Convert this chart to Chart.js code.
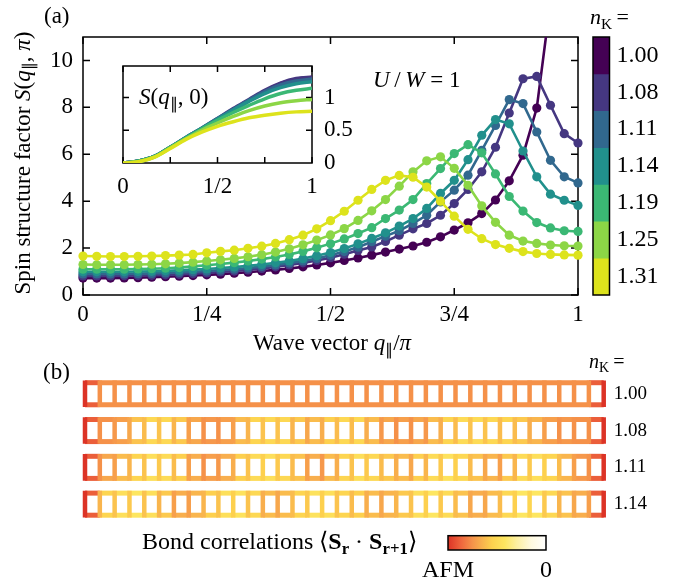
<!DOCTYPE html>
<html><head><meta charset="utf-8">
<script src="https://cdn.jsdelivr.net/npm/chart.js@4/dist/chart.umd.min.js"></script>
<style>
html,body{margin:0;padding:0;background:#fff;}
body{width:683px;height:587px;position:relative;overflow:hidden;font-family:"Liberation Serif","Times New Roman",serif;color:#000;}
canvas{position:absolute;}
.t{position:absolute;white-space:nowrap;font-size:23px;line-height:1;}
sub{font-size:0.7em;vertical-align:-0.3em;line-height:0;}
.b{font-weight:bold;}
</style></head><body>
<canvas id="main" width="683" height="340" style="left:0;top:0"></canvas>
<canvas id="inset" width="280" height="160" style="left:100px;top:50px"></canvas>
<canvas id="cbar" width="123" height="320" style="left:560px;top:0"></canvas>
<canvas id="ladder" width="683" height="170" style="left:0;top:360px"></canvas>
<canvas id="gbar" width="160" height="59" style="left:420px;top:528px"></canvas>

<div class="t" style="left:44px;top:4px">(a)</div>
<div class="t" style="left:590px;top:6px;font-size:22px"><i>n</i><sub>K</sub>&thinsp;=</div>
<div class="t" style="left:373px;top:68px"><i>U</i>&thinsp;/&thinsp;<i>W</i> = 1</div>
<div class="t" style="left:139px;top:85px"><i>S</i>(<i>q</i><sub>∥</sub>, 0)</div>
<div class="t" style="left:22px;top:163px;transform:translate(-50%,-50%) rotate(-90deg);">Spin structure factor <i>S</i>(<i>q</i><sub>∥</sub>, <i>π</i>)</div>
<div class="t" style="left:332px;top:331px;transform:translateX(-50%);">Wave vector <i>q</i><sub>∥</sub>/<i>π</i></div>
<div class="t" style="left:43px;top:360px">(b)</div>
<div class="t" style="left:589px;top:351px;font-size:20px"><i>n</i><sub>K</sub>&thinsp;=</div>
<div class="t" style="left:142px;top:529px;font-size:24px">Bond correlations ⟨<span class="b">S</span><sub class="b">r</sub> · <span class="b">S</span><sub class="b">r+1</sub>⟩</div>

<script>
const FONT = "'Liberation Serif', 'Times New Roman', serif";

// ---------- panel (a) data ----------
const nK = ['1.00','1.08','1.11','1.14','1.19','1.25','1.31'];
const seriesColors = ['#440154','#453781','#31688e','#21908c','#3bb874','#8cd646','#dde31c'];
const qGrid = [0,0.0278,0.0556,0.0833,0.1111,0.1389,0.1667,0.1944,0.2222,0.25,0.2778,0.3056,0.3333,0.3611,0.3889,0.4167,0.4444,0.4722,0.5,0.5278,0.5556,0.5833,0.6111,0.6389,0.6667,0.6944,0.7222,0.75,0.7778,0.8056,0.8333,0.8611,0.8889,0.9167,0.9444,0.9722,1];
const xTickVals = [0,0.25,0.5,0.75,1];
const xTickLabels = ['0','1/4','1/2','3/4','1'];
const yTickVals = [0,2,4,6,8,10];

const S_100 = [0.72,0.72,0.72,0.73,0.74,0.76,0.78,0.80,0.83,0.86,0.89,0.93,0.97,1.02,1.07,1.13,1.20,1.28,1.37,1.47,1.58,1.70,1.83,1.96,2.09,2.25,2.48,2.77,3.08,3.47,4.05,4.87,5.96,7.97,12.5,18.0,26.0];
const S_108 = [0.81,0.81,0.81,0.82,0.83,0.84,0.86,0.88,0.91,0.94,0.98,1.02,1.07,1.13,1.20,1.28,1.37,1.47,1.59,1.74,1.90,2.05,2.28,2.55,2.82,3.05,3.40,3.90,4.50,5.25,6.30,7.76,9.22,9.32,8.09,6.88,6.48];
const S_111 = [0.90,0.90,0.90,0.90,0.91,0.92,0.94,0.96,0.99,1.02,1.06,1.10,1.15,1.21,1.28,1.36,1.45,1.56,1.69,1.85,2.04,2.27,2.51,2.74,3.05,3.40,3.97,4.47,5.11,6.17,7.23,8.33,8.16,6.95,5.74,5.04,4.78];
const S_114 = [0.99,0.99,0.99,0.99,1.00,1.01,1.03,1.05,1.08,1.11,1.15,1.19,1.24,1.30,1.37,1.45,1.55,1.67,1.81,1.98,2.18,2.41,2.65,2.94,3.26,3.69,4.33,4.89,5.77,6.81,7.48,7.30,6.14,5.04,4.30,4.04,3.82];
const S_119 = [1.10,1.10,1.10,1.10,1.11,1.12,1.14,1.17,1.22,1.27,1.32,1.38,1.45,1.53,1.62,1.73,1.86,2.01,2.19,2.39,2.62,2.87,3.26,3.62,4.07,4.75,5.39,6.03,6.41,6.06,5.16,4.20,3.58,3.09,2.86,2.74,2.71];
const S_125 = [1.30,1.29,1.29,1.29,1.30,1.31,1.33,1.36,1.40,1.45,1.50,1.56,1.63,1.72,1.83,1.97,2.14,2.34,2.56,2.83,3.18,3.59,4.07,4.64,5.25,5.72,5.89,5.40,4.68,3.80,3.10,2.55,2.30,2.20,2.13,2.10,2.09];
const S_131 = [1.66,1.65,1.64,1.64,1.65,1.66,1.68,1.70,1.73,1.80,1.86,1.91,1.99,2.08,2.20,2.36,2.55,2.82,3.17,3.57,4.04,4.50,4.89,5.10,5.02,4.60,4.00,3.36,2.80,2.40,2.15,1.99,1.85,1.77,1.73,1.71,1.70];
const mainSeries = [S_100,S_108,S_111,S_114,S_119,S_125,S_131];

// inset S(q,0)
const qInset = [0,0.0833,0.1667,0.25,0.3333,0.4167,0.5,0.5833,0.6667,0.75,0.8333,0.9167,1];
const insetXTicks = [0,0.25,0.5,0.75,1];
const insetXLabels = {0:'0',0.5:'1/2',1:'1'};
const insetYTicks = [0,0.5,1];
const insetYLabels = ['0','0.5','1'];
const I_100 = [0,0.03,0.10,0.24,0.38,0.52,0.66,0.80,0.95,1.09,1.21,1.28,1.31];
const I_108 = [0,0.03,0.10,0.24,0.39,0.53,0.68,0.83,0.97,1.11,1.22,1.29,1.31];
const I_111 = [0,0.03,0.10,0.24,0.39,0.53,0.68,0.82,0.96,1.09,1.19,1.25,1.28];
const I_114 = [0,0.03,0.10,0.24,0.39,0.53,0.67,0.81,0.94,1.06,1.15,1.21,1.24];
const I_119 = [0,0.03,0.10,0.24,0.38,0.52,0.65,0.77,0.88,0.98,1.06,1.11,1.14];
const I_125 = [0,0.02,0.09,0.23,0.37,0.50,0.61,0.71,0.80,0.87,0.92,0.95,0.97];
const I_131 = [0,0.02,0.09,0.22,0.36,0.47,0.56,0.63,0.69,0.73,0.76,0.78,0.79];
const insetSeries = [I_100,I_108,I_111,I_114,I_119,I_125,I_131];

// ---------- panel (b) data: bond correlations <S_r . S_r+1> ----------
const AFM_VALUE = -0.45;
const ladderLabels = ['1.00','1.08','1.11','1.14'];
const rungs_100 = [-0.45,-0.34,-0.34,-0.34,-0.34,-0.34,-0.34,-0.34,-0.34,-0.34,-0.34,-0.34,-0.34,-0.34,-0.34,-0.34,-0.34,-0.34,-0.34,-0.34,-0.34,-0.34,-0.34,-0.34,-0.34,-0.34,-0.34,-0.34,-0.34,-0.34,-0.34,-0.34,-0.34,-0.34,-0.34,-0.45];
const legs_100 = [-0.40,-0.34,-0.34,-0.34,-0.34,-0.34,-0.34,-0.34,-0.34,-0.34,-0.34,-0.34,-0.34,-0.34,-0.34,-0.34,-0.34,-0.34,-0.34,-0.34,-0.34,-0.34,-0.34,-0.34,-0.34,-0.34,-0.34,-0.34,-0.34,-0.34,-0.34,-0.34,-0.34,-0.34,-0.40];
const rungs_108 = [-0.45,-0.34,-0.33,-0.31,-0.28,-0.27,-0.29,-0.32,-0.34,-0.34,-0.32,-0.29,-0.27,-0.27,-0.29,-0.31,-0.30,-0.28,-0.28,-0.30,-0.33,-0.34,-0.34,-0.33,-0.30,-0.28,-0.27,-0.27,-0.28,-0.28,-0.30,-0.32,-0.34,-0.34,-0.34,-0.45];
const legs_108 = [-0.40,-0.34,-0.32,-0.27,-0.23,-0.23,-0.26,-0.31,-0.33,-0.32,-0.28,-0.24,-0.23,-0.23,-0.26,-0.28,-0.25,-0.23,-0.23,-0.28,-0.31,-0.32,-0.31,-0.28,-0.24,-0.22,-0.22,-0.23,-0.24,-0.26,-0.29,-0.32,-0.33,-0.34,-0.40];
const rungs_111 = [-0.45,-0.34,-0.32,-0.29,-0.27,-0.26,-0.28,-0.32,-0.34,-0.33,-0.30,-0.27,-0.25,-0.26,-0.28,-0.32,-0.33,-0.30,-0.27,-0.26,-0.28,-0.30,-0.31,-0.29,-0.26,-0.25,-0.28,-0.31,-0.32,-0.29,-0.26,-0.25,-0.28,-0.32,-0.34,-0.45];
const legs_111 = [-0.40,-0.31,-0.28,-0.24,-0.21,-0.22,-0.25,-0.30,-0.32,-0.30,-0.25,-0.22,-0.21,-0.23,-0.27,-0.30,-0.28,-0.24,-0.21,-0.23,-0.26,-0.28,-0.25,-0.22,-0.20,-0.23,-0.27,-0.29,-0.26,-0.22,-0.21,-0.24,-0.29,-0.33,-0.40];
const rungs_114 = [-0.45,-0.29,-0.27,-0.26,-0.27,-0.29,-0.32,-0.32,-0.29,-0.27,-0.25,-0.27,-0.30,-0.31,-0.28,-0.26,-0.25,-0.27,-0.28,-0.30,-0.31,-0.29,-0.27,-0.25,-0.26,-0.28,-0.31,-0.31,-0.28,-0.25,-0.24,-0.26,-0.29,-0.31,-0.32,-0.45];
const legs_114 = [-0.40,-0.24,-0.21,-0.19,-0.21,-0.26,-0.30,-0.29,-0.25,-0.21,-0.20,-0.23,-0.28,-0.28,-0.24,-0.20,-0.21,-0.24,-0.25,-0.28,-0.29,-0.26,-0.21,-0.19,-0.22,-0.27,-0.30,-0.28,-0.23,-0.19,-0.19,-0.23,-0.27,-0.30,-0.40];
const ladderRungs = [rungs_100,rungs_108,rungs_111,rungs_114];
const ladderLegs = [legs_100,legs_108,legs_111,legs_114];
const gradLabels = ['AFM','0'];

// colour scale: t = fraction of AFM strength (0 white .. 1 red)
const scaleStops = [[0,'#ffffff'],[0.15,'#fffae0'],[0.3,'#fdf0a0'],[0.42,'#fde660'],[0.55,'#fdd24e'],[0.65,'#f9b34d'],[0.75,'#f5934a'],[0.87,'#ee653d'],[1,'#dc3326']];
function hexToRgb(h){return [parseInt(h.slice(1,3),16),parseInt(h.slice(3,5),16),parseInt(h.slice(5,7),16)];}
function scaleColor(t){
  t=Math.max(0,Math.min(1,t));
  for(let i=1;i<scaleStops.length;i++){
    if(t<=scaleStops[i][0]){
      const [t0,c0]=scaleStops[i-1],[t1,c1]=scaleStops[i];
      const f=(t-t0)/(t1-t0),a=hexToRgb(c0),b=hexToRgb(c1);
      return 'rgb('+a.map((v,k)=>Math.round(v+(b[k]-v)*f)).join(',')+')';
    }
  }
  return scaleStops[scaleStops.length-1][1];
}
const bondColor = v => scaleColor(v/AFM_VALUE);

// ---------- plugins ----------
const frameTicks = {
  id:'frameTicks',
  beforeDatasetsDraw(chart, args, o){
    if(!o || !o.on) return;
    const {ctx, chartArea:a, scales} = chart;
    ctx.save();
    ctx.strokeStyle='#000'; ctx.lineWidth=o.lw||1.5;
    ctx.strokeRect(a.left, a.top, a.right-a.left, a.bottom-a.top);
    const L=o.len||7;
    ctx.beginPath();
    (o.xt||[]).forEach(v=>{const x=scales.x.getPixelForValue(v); ctx.moveTo(x,a.bottom); ctx.lineTo(x,a.bottom-L); ctx.moveTo(x,a.top); ctx.lineTo(x,a.top+L);});
    (o.yt||[]).forEach(v=>{const y=scales.y.getPixelForValue(v); ctx.moveTo(a.left,y); ctx.lineTo(a.left+L,y); ctx.moveTo(a.right,y); ctx.lineTo(a.right-L,y);});
    ctx.stroke(); ctx.restore();
  },
  afterDatasetsDraw(chart, args, o){
    if(!o || !o.boxAfter) return;
    const {ctx, chartArea:a} = chart;
    ctx.save(); ctx.strokeStyle='#000'; ctx.lineWidth=o.lw||1.5;
    ctx.strokeRect(a.left, a.top, a.right-a.left, a.bottom-a.top);
    ctx.restore();
  }
};
Chart.register(frameTicks);
Chart.defaults.font.family = FONT;
Chart.defaults.color = '#000';

// ---------- main chart ----------
new Chart(document.getElementById('main'), {
  type:'line',
  data:{datasets: mainSeries.map((s,i)=>({
    label:'n_K = '+nK[i],
    data: s.map((v,k)=>({x:qGrid[k], y:v})),
    borderColor: seriesColors[i], backgroundColor: seriesColors[i],
    borderWidth:2.6, pointRadius:4.6, pointBorderWidth:0, pointHoverRadius:4.6,
    tension:0, order: 6-i, clip:{left:6,top:0,right:6,bottom:6}
  }))},
  options:{
    responsive:false, animation:false, events:[],
    layout:{padding:{left:0,top:37,right:105,bottom:0}},
    plugins:{legend:{display:false},tooltip:{enabled:false},
      frameTicks:{on:true,xt:xTickVals,yt:yTickVals,len:7,lw:1.5}},
    scales:{
      x:{type:'linear',min:0,max:1,
        grid:{display:false,drawTicks:false},border:{display:false},
        afterBuildTicks(s){s.ticks=xTickVals.map(v=>({value:v}));},
        afterFit(s){s.height=45;s.paddingLeft=0;s.paddingRight=0;},
        ticks:{padding:6,maxRotation:0,autoSkip:false,font:{size:23},callback:(v,i)=>xTickLabels[i]}},
      y:{type:'linear',min:0,max:11,
        grid:{display:false,drawTicks:false},border:{display:false},
        afterBuildTicks(s){s.ticks=yTickVals.map(v=>({value:v}));},
        afterFit(s){s.width=83;s.paddingTop=0;s.paddingBottom=0;},
        ticks:{padding:10,font:{size:23}}}
    }
  }
});

// ---------- inset ----------
new Chart(document.getElementById('inset'), {
  type:'line',
  data:{datasets: insetSeries.map((s,i)=>({
    data: s.map((v,k)=>({x:qInset[k], y:v})),
    borderColor: seriesColors[i], borderWidth:3.5, pointRadius:0,
    tension:0.4, cubicInterpolationMode:'monotone', order:6-i
  }))},
  options:{
    responsive:false, animation:false, events:[],
    layout:{padding:{left:23,top:16,right:0,bottom:0}},
    plugins:{legend:{display:false},tooltip:{enabled:false},
      frameTicks:{on:true,xt:insetXTicks,yt:insetYTicks.slice(1),len:6,lw:1.5}},
    scales:{
      x:{type:'linear',min:0,max:1,
        grid:{display:false,drawTicks:false},border:{display:false},
        afterBuildTicks(s){s.ticks=insetXTicks.map(v=>({value:v}));},
        afterFit(s){s.height=47;s.paddingLeft=0;s.paddingRight=0;},
        ticks:{padding:10,maxRotation:0,autoSkip:false,font:{size:23},callback:v=>insetXLabels[v]||''}},
      y:{type:'linear',position:'right',min:0,max:1.48,
        grid:{display:false,drawTicks:false},border:{display:false},
        afterBuildTicks(s){s.ticks=insetYTicks.map(v=>({value:v}));},
        afterFit(s){s.width=68;s.paddingTop=0;s.paddingBottom=0;},
        ticks:{padding:12,font:{size:23},callback:(v,i)=>insetYLabels[i]}}
    }
  }
});

// ---------- discrete colour bar ----------
new Chart(document.getElementById('cbar'), {
  type:'bar',
  data:{labels:['n_K'], datasets: nK.map((n,i)=>({label:n, data:[1], backgroundColor:seriesColors[i], borderWidth:0, barPercentage:1, categoryPercentage:1}))},
  options:{
    responsive:false, animation:false, events:[],
    layout:{padding:{left:33,top:37,right:0,bottom:25}},
    plugins:{legend:{display:false},tooltip:{enabled:false},frameTicks:{boxAfter:true,lw:1.5}},
    scales:{
      x:{stacked:true,display:false},
      y:{stacked:true,position:'right',min:0,max:7,reverse:true,
        grid:{display:false,drawTicks:false},border:{display:false},
        afterBuildTicks(s){s.ticks=nK.map((n,i)=>({value:i+0.5}));},
        afterFit(s){s.width=73.5;s.paddingTop=0;s.paddingBottom=0;},
        ticks:{padding:7,font:{size:24},callback:(v,i)=>nK[i]}}
    }
  }
});

// ---------- ladders ----------
const LEG_GAP = 0.6;
const rungIdx = rungs_100.map((_,i)=>i);
const ladderDatasets = [];
ladderRungs.forEach((R,j)=>{
  const pts=[];
  rungIdx.forEach(i=>{pts.push({x:i,y:j},{x:i,y:j+LEG_GAP},{x:i,y:null});});
  ladderDatasets.push({data:pts, borderWidth:4.5, borderCapStyle:'square', pointRadius:0, spanGaps:false, clip:false, order:0,
    borderColor:bondColor(R[1]),
    segment:{borderColor:c=>bondColor(R[Math.floor(c.p0DataIndex/3)])}});
  [j, j+LEG_GAP].forEach(yy=>{
    ladderDatasets.push({data:rungIdx.map(i=>({x:i,y:yy})), borderWidth:5, borderCapStyle:'butt', pointRadius:0, clip:false, order:1,
      borderColor:bondColor(ladderLegs[j][1]),
      segment:{borderColor:c=>bondColor(ladderLegs[j][c.p0DataIndex])}});
  });
});

new Chart(document.getElementById('ladder'), {
  type:'line',
  data:{datasets:ladderDatasets},
  options:{
    responsive:false, animation:false, events:[],
    layout:{padding:{left:85,top:22.7,right:0,bottom:14.8}},
    plugins:{legend:{display:false},tooltip:{enabled:false}},
    scales:{
      x:{type:'linear',min:0,max:35,display:false},
      y:{type:'linear',position:'right',min:0,max:3.6,reverse:true,
        grid:{display:false,drawTicks:false},border:{display:false},
        afterBuildTicks(s){s.ticks=ladderLabels.map((l,j)=>({value:j+LEG_GAP/2}));},
        afterFit(s){s.width=79.3;s.paddingTop=0;s.paddingBottom=0;},
        ticks:{padding:10,font:{size:19},callback:(v,i)=>ladderLabels[i]}}
    }
  }
});

// ---------- gradient colour bar ----------
new Chart(document.getElementById('gbar'), {
  type:'bar',
  data:{labels:[''], datasets:[{data:[[0,1]], borderWidth:0, barPercentage:1, categoryPercentage:1,
    backgroundColor:(c)=>{
      const a=c.chart.chartArea; if(!a) return '#fff';
      const g=c.chart.ctx.createLinearGradient(a.left,0,a.right,0);
      scaleStops.forEach(([t,col])=>g.addColorStop(1-t,col));
      return g;
    }}]},
  options:{
    indexAxis:'y', responsive:false, animation:false, events:[],
    layout:{padding:{left:28,top:7.7,right:34,bottom:0}},
    plugins:{legend:{display:false},tooltip:{enabled:false},frameTicks:{boxAfter:true,lw:1.5}},
    scales:{
      y:{display:false},
      x:{type:'linear',min:0,max:1,
        grid:{display:false,drawTicks:false},border:{display:false},
        afterBuildTicks(s){s.ticks=[{value:0},{value:1}];},
        afterFit(s){s.height=37;s.paddingLeft=0;s.paddingRight=0;},
        ticks:{padding:6,maxRotation:0,font:{size:24},callback:(v,i)=>gradLabels[i]}}
    }
  }
});
</script>
</body></html>
